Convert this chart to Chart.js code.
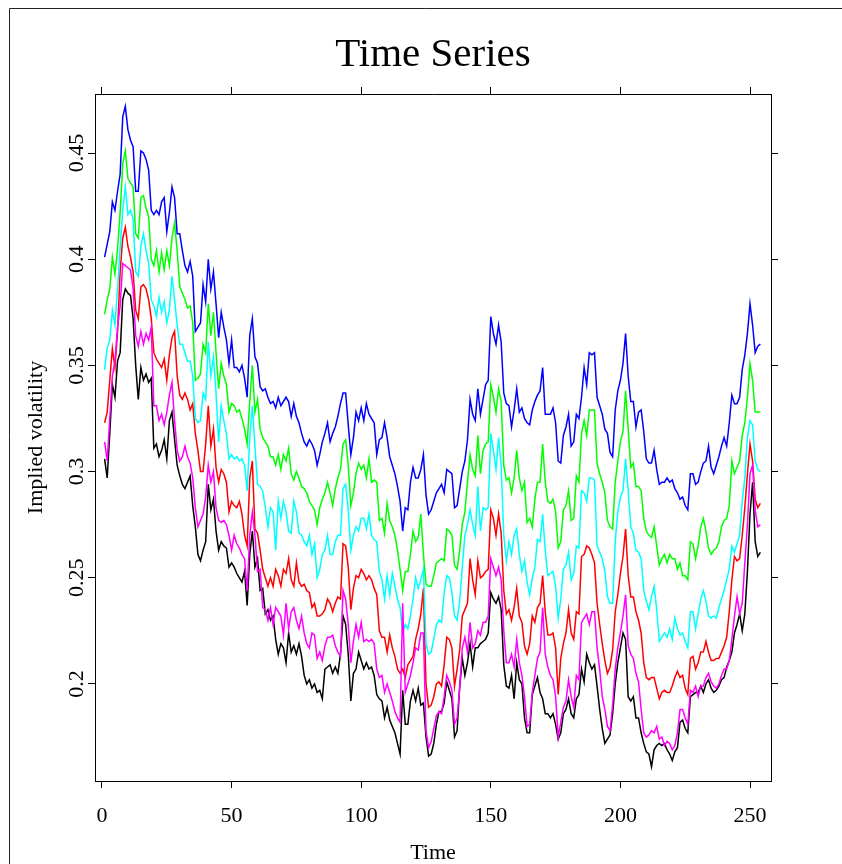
<!DOCTYPE html>
<html><head><meta charset="utf-8">
<script src="https://cdn.jsdelivr.net/npm/chart.js@4/dist/chart.umd.min.js"></script>
<style>html,body{margin:0;padding:0;background:#fff;}canvas{display:block;}</style>
</head><body>
<canvas id="c" width="842" height="864"></canvas>
<script>
// ---- data ----
const timeIdx = Array.from({length: 254}, (_, i) => i + 1);
const xTicks = [0, 50, 100, 150, 200, 250];
const yTicks = [0.2, 0.25, 0.3, 0.35, 0.4, 0.45];
const yTickLabels = ['0.2', '0.25', '0.3', '0.35', '0.4', '0.45'];

const blue = [
0.401,0.407,0.413,0.427,0.423,0.432,0.440,0.467,0.472,0.461,
0.456,0.453,0.432,0.432,0.451,0.450,0.447,0.442,0.423,0.421,
0.423,0.421,0.427,0.429,0.413,0.422,0.434,0.429,0.412,0.412,
0.404,0.397,0.394,0.399,0.392,0.366,0.368,0.370,0.388,0.380,
0.400,0.386,0.394,0.379,0.363,0.375,0.368,0.362,0.351,0.362,
0.349,0.349,0.347,0.350,0.344,0.335,0.364,0.372,0.354,0.351,
0.340,0.338,0.339,0.335,0.332,0.333,0.330,0.335,0.331,0.333,
0.335,0.333,0.326,0.332,0.326,0.323,0.318,0.314,0.312,0.315,
0.313,0.310,0.303,0.308,0.314,0.318,0.323,0.314,0.318,0.321,
0.326,0.332,0.337,0.337,0.322,0.308,0.316,0.328,0.324,0.330,
0.324,0.332,0.327,0.325,0.323,0.308,0.315,0.316,0.323,0.316,
0.307,0.303,0.299,0.293,0.286,0.272,0.283,0.282,0.295,0.302,
0.297,0.297,0.301,0.308,0.289,0.280,0.282,0.286,0.290,0.292,
0.294,0.290,0.301,0.300,0.299,0.283,0.284,0.292,0.300,0.305,
0.315,0.334,0.327,0.324,0.339,0.327,0.334,0.341,0.343,0.373,
0.365,0.360,0.369,0.361,0.337,0.332,0.331,0.321,0.329,0.339,
0.328,0.330,0.325,0.323,0.322,0.329,0.333,0.336,0.338,0.349,
0.327,0.327,0.327,0.330,0.323,0.305,0.304,0.317,0.321,0.327,
0.312,0.314,0.327,0.325,0.335,0.349,0.341,0.356,0.355,0.356,
0.335,0.331,0.327,0.320,0.318,0.309,0.307,0.329,0.338,0.343,
0.351,0.365,0.345,0.333,0.333,0.321,0.328,0.329,0.319,0.306,
0.304,0.304,0.310,0.301,0.294,0.295,0.295,0.297,0.295,0.296,
0.292,0.290,0.287,0.288,0.284,0.282,0.299,0.299,0.294,0.295,
0.300,0.304,0.305,0.312,0.302,0.299,0.303,0.307,0.312,0.316,
0.312,0.323,0.336,0.332,0.332,0.335,0.348,0.355,0.365,0.379,
0.369,0.356,0.359,0.360];

const green = [
0.374,0.381,0.386,0.401,0.393,0.405,0.422,0.445,0.451,0.438,
0.436,0.434,0.412,0.410,0.429,0.430,0.424,0.420,0.400,0.397,
0.404,0.394,0.403,0.395,0.404,0.397,0.410,0.417,0.404,0.387,
0.384,0.381,0.377,0.378,0.370,0.343,0.344,0.346,0.360,0.356,
0.379,0.364,0.375,0.356,0.339,0.351,0.345,0.341,0.328,0.332,
0.331,0.328,0.329,0.325,0.320,0.313,0.333,0.350,0.328,0.334,
0.320,0.316,0.314,0.312,0.307,0.307,0.303,0.308,0.301,0.308,
0.305,0.311,0.299,0.296,0.300,0.297,0.293,0.292,0.290,0.286,
0.284,0.282,0.275,0.283,0.287,0.290,0.295,0.290,0.284,0.292,
0.297,0.301,0.313,0.315,0.303,0.284,0.290,0.299,0.304,0.301,
0.303,0.297,0.306,0.295,0.296,0.295,0.277,0.278,0.271,0.285,
0.277,0.274,0.270,0.263,0.254,0.244,0.253,0.253,0.261,0.272,
0.267,0.269,0.280,0.261,0.247,0.246,0.246,0.251,0.257,0.258,
0.259,0.258,0.273,0.272,0.270,0.256,0.254,0.263,0.275,0.281,
0.295,0.308,0.301,0.298,0.317,0.299,0.310,0.313,0.314,0.341,
0.335,0.328,0.339,0.333,0.303,0.296,0.297,0.290,0.297,0.310,
0.297,0.291,0.295,0.276,0.278,0.274,0.287,0.295,0.295,0.313,
0.295,0.286,0.285,0.287,0.281,0.264,0.267,0.282,0.284,0.291,
0.277,0.278,0.298,0.295,0.318,0.324,0.317,0.329,0.329,0.329,
0.304,0.299,0.295,0.290,0.277,0.274,0.273,0.295,0.305,0.314,
0.319,0.338,0.320,0.302,0.304,0.293,0.293,0.291,0.278,0.272,
0.270,0.269,0.274,0.265,0.256,0.259,0.261,0.257,0.261,0.259,
0.259,0.254,0.257,0.251,0.251,0.249,0.267,0.266,0.259,0.265,
0.274,0.278,0.272,0.264,0.261,0.263,0.264,0.267,0.274,0.277,
0.278,0.284,0.305,0.299,0.302,0.305,0.317,0.323,0.335,0.351,
0.343,0.328,0.328,0.328];

const cyan = [
0.348,0.358,0.362,0.376,0.369,0.386,0.405,0.423,0.434,0.421,
0.423,0.419,0.394,0.392,0.406,0.412,0.404,0.398,0.381,0.378,
0.373,0.382,0.375,0.380,0.370,0.376,0.392,0.381,0.369,0.360,
0.360,0.356,0.352,0.352,0.345,0.325,0.323,0.324,0.337,0.334,
0.361,0.345,0.354,0.337,0.314,0.331,0.324,0.318,0.306,0.308,
0.306,0.307,0.305,0.306,0.303,0.291,0.316,0.331,0.312,0.294,
0.293,0.291,0.283,0.274,0.283,0.281,0.263,0.286,0.278,0.286,
0.281,0.272,0.271,0.286,0.281,0.271,0.270,0.267,0.265,0.270,
0.261,0.266,0.250,0.254,0.261,0.263,0.270,0.261,0.261,0.267,
0.270,0.270,0.292,0.294,0.282,0.263,0.270,0.274,0.272,0.278,
0.278,0.273,0.280,0.270,0.268,0.267,0.253,0.249,0.240,0.251,
0.242,0.252,0.246,0.240,0.236,0.224,0.228,0.226,0.232,0.240,
0.250,0.245,0.249,0.254,0.219,0.214,0.215,0.221,0.228,0.230,
0.229,0.243,0.251,0.250,0.243,0.232,0.230,0.239,0.255,0.270,
0.275,0.282,0.275,0.270,0.293,0.272,0.283,0.282,0.283,0.318,
0.310,0.301,0.316,0.303,0.270,0.258,0.267,0.261,0.270,0.273,
0.261,0.253,0.258,0.248,0.242,0.250,0.255,0.268,0.267,0.280,
0.263,0.251,0.252,0.253,0.246,0.231,0.240,0.254,0.256,0.262,
0.249,0.252,0.265,0.264,0.291,0.290,0.286,0.297,0.297,0.296,
0.265,0.262,0.259,0.253,0.241,0.238,0.238,0.267,0.281,0.288,
0.291,0.306,0.291,0.274,0.271,0.263,0.262,0.259,0.244,0.239,
0.235,0.241,0.246,0.235,0.220,0.222,0.224,0.222,0.226,0.221,
0.231,0.226,0.223,0.224,0.220,0.217,0.234,0.234,0.226,0.233,
0.240,0.244,0.239,0.232,0.231,0.232,0.231,0.236,0.240,0.244,
0.249,0.254,0.265,0.262,0.266,0.270,0.286,0.297,0.316,0.324,
0.322,0.305,0.301,0.300];

const red = [
0.323,0.328,0.343,0.358,0.349,0.366,0.394,0.410,0.415,0.406,
0.401,0.394,0.376,0.372,0.387,0.388,0.386,0.381,0.372,0.356,
0.353,0.351,0.349,0.353,0.343,0.355,0.363,0.366,0.345,0.336,
0.334,0.337,0.334,0.329,0.332,0.318,0.310,0.300,0.300,0.313,
0.331,0.312,0.320,0.302,0.295,0.301,0.299,0.295,0.281,0.286,
0.284,0.283,0.286,0.280,0.270,0.265,0.297,0.305,0.273,0.271,
0.263,0.254,0.250,0.246,0.250,0.246,0.254,0.251,0.246,0.254,
0.252,0.259,0.249,0.246,0.257,0.248,0.246,0.247,0.244,0.243,
0.236,0.238,0.232,0.232,0.233,0.235,0.240,0.238,0.234,0.238,
0.241,0.240,0.266,0.265,0.255,0.235,0.245,0.251,0.250,0.254,
0.252,0.249,0.251,0.249,0.245,0.242,0.225,0.222,0.222,0.215,
0.223,0.217,0.213,0.207,0.205,0.207,0.203,0.209,0.211,0.213,
0.221,0.226,0.233,0.245,0.200,0.189,0.190,0.194,0.200,0.201,
0.199,0.209,0.222,0.221,0.217,0.199,0.207,0.216,0.232,0.235,
0.238,0.259,0.249,0.242,0.258,0.250,0.251,0.253,0.254,0.282,
0.278,0.270,0.280,0.271,0.244,0.233,0.235,0.230,0.236,0.245,
0.232,0.229,0.218,0.214,0.219,0.232,0.229,0.236,0.238,0.251,
0.234,0.223,0.223,0.224,0.217,0.195,0.212,0.219,0.224,0.235,
0.224,0.221,0.234,0.233,0.260,0.261,0.265,0.264,0.261,0.257,
0.238,0.228,0.219,0.211,0.205,0.208,0.216,0.234,0.242,0.252,
0.260,0.273,0.251,0.241,0.241,0.234,0.230,0.224,0.210,0.203,
0.202,0.203,0.203,0.198,0.193,0.196,0.197,0.196,0.196,0.199,
0.203,0.206,0.203,0.204,0.198,0.195,0.212,0.213,0.207,0.210,
0.215,0.215,0.220,0.215,0.211,0.211,0.212,0.212,0.215,0.218,
0.222,0.234,0.249,0.260,0.258,0.259,0.270,0.283,0.299,0.313,
0.305,0.287,0.283,0.285];

const magenta = [
0.314,0.305,0.325,0.345,0.352,0.368,0.378,0.398,0.397,0.396,
0.395,0.386,0.364,0.359,0.366,0.360,0.365,0.362,0.368,0.331,
0.331,0.324,0.327,0.322,0.328,0.336,0.342,0.324,0.310,0.305,
0.307,0.312,0.307,0.304,0.297,0.283,0.274,0.277,0.280,0.288,
0.303,0.295,0.300,0.283,0.277,0.276,0.277,0.275,0.270,0.263,
0.270,0.266,0.264,0.261,0.259,0.244,0.270,0.281,0.270,0.253,
0.254,0.236,0.235,0.230,0.236,0.228,0.236,0.234,0.232,0.223,
0.238,0.226,0.234,0.236,0.230,0.226,0.232,0.224,0.219,0.217,
0.224,0.223,0.212,0.215,0.211,0.218,0.222,0.222,0.223,0.218,
0.215,0.213,0.244,0.240,0.228,0.210,0.220,0.228,0.222,0.229,
0.220,0.221,0.220,0.221,0.219,0.207,0.203,0.204,0.196,0.200,
0.196,0.192,0.187,0.184,0.182,0.238,0.196,0.200,0.204,0.210,
0.217,0.216,0.224,0.224,0.178,0.170,0.173,0.179,0.185,0.187,
0.186,0.194,0.204,0.201,0.197,0.181,0.184,0.198,0.217,0.222,
0.215,0.229,0.217,0.219,0.225,0.223,0.229,0.229,0.232,0.259,
0.255,0.251,0.255,0.249,0.225,0.210,0.210,0.214,0.208,0.221,
0.210,0.204,0.194,0.180,0.181,0.196,0.204,0.212,0.215,0.236,
0.214,0.208,0.204,0.202,0.194,0.175,0.182,0.189,0.192,0.202,
0.194,0.189,0.204,0.202,0.229,0.231,0.233,0.228,0.234,0.234,
0.217,0.207,0.194,0.188,0.180,0.178,0.190,0.207,0.217,0.224,
0.232,0.242,0.218,0.214,0.212,0.205,0.201,0.188,0.177,0.175,
0.176,0.178,0.177,0.180,0.174,0.175,0.171,0.173,0.172,0.169,
0.171,0.177,0.188,0.188,0.184,0.181,0.197,0.196,0.199,0.194,
0.199,0.199,0.203,0.205,0.201,0.199,0.198,0.200,0.204,0.207,
0.207,0.211,0.221,0.232,0.241,0.233,0.238,0.257,0.275,0.299,
0.303,0.282,0.274,0.275];

const black = [
0.306,0.297,0.318,0.341,0.335,0.352,0.356,0.381,0.386,0.384,
0.383,0.372,0.350,0.334,0.349,0.343,0.346,0.342,0.344,0.311,
0.313,0.307,0.310,0.315,0.306,0.324,0.328,0.315,0.303,0.298,
0.294,0.292,0.295,0.298,0.284,0.274,0.261,0.258,0.263,0.267,
0.294,0.282,0.287,0.272,0.263,0.267,0.265,0.264,0.255,0.257,
0.255,0.252,0.250,0.248,0.253,0.237,0.261,0.272,0.255,0.259,
0.244,0.245,0.233,0.235,0.230,0.232,0.221,0.214,0.219,0.217,
0.210,0.224,0.215,0.218,0.214,0.219,0.213,0.204,0.200,0.202,
0.198,0.200,0.196,0.197,0.193,0.207,0.208,0.209,0.205,0.208,
0.205,0.214,0.232,0.228,0.214,0.192,0.205,0.207,0.215,0.211,
0.207,0.210,0.207,0.208,0.204,0.195,0.193,0.192,0.184,0.189,
0.183,0.180,0.177,0.172,0.167,0.197,0.181,0.181,0.192,0.197,
0.192,0.198,0.190,0.191,0.175,0.166,0.167,0.172,0.181,0.187,
0.187,0.191,0.201,0.197,0.193,0.175,0.178,0.199,0.212,0.204,
0.210,0.219,0.208,0.217,0.217,0.219,0.220,0.221,0.224,0.243,
0.240,0.238,0.241,0.235,0.209,0.199,0.198,0.204,0.193,0.210,
0.202,0.200,0.184,0.177,0.177,0.195,0.199,0.203,0.196,0.193,
0.186,0.186,0.184,0.186,0.181,0.174,0.177,0.186,0.188,0.193,
0.186,0.184,0.193,0.195,0.207,0.201,0.214,0.210,0.207,0.209,
0.199,0.188,0.179,0.172,0.174,0.176,0.186,0.200,0.210,0.217,
0.224,0.221,0.194,0.192,0.194,0.184,0.184,0.177,0.172,0.168,
0.167,0.161,0.169,0.171,0.172,0.171,0.172,0.169,0.167,0.164,
0.168,0.170,0.182,0.183,0.179,0.177,0.194,0.195,0.196,0.196,
0.199,0.196,0.200,0.202,0.198,0.196,0.197,0.199,0.202,0.203,
0.208,0.211,0.215,0.224,0.228,0.233,0.225,0.233,0.253,0.280,
0.295,0.267,0.260,0.262];

// ---- chart ----
const SERIF = "'Liberation Serif', 'DejaVu Serif', serif";
const XMIN = -2.7, XMAX = 258.1;
const YMIN = 0.1543, YMAX = 0.4778;

const setXTicks = s => { s.ticks = xTicks.map(v => ({value: v})); };
const setYTicks = s => { s.ticks = yTicks.map(v => ({value: v})); };

const gridOpts = {drawOnChartArea: false, drawTicks: true, tickLength: 7, color: '#000', lineWidth: 1};
const borderOpts = {display: true, color: '#000', width: 1};

const framePlugin = {
  id: 'frame',
  beforeDraw(chart) {
    const c = chart.ctx;
    c.save();
    c.fillStyle = '#fff';
    c.fillRect(0, 0, chart.width, chart.height);
    c.strokeStyle = '#222';
    c.lineWidth = 1;
    c.beginPath();
    c.moveTo(9.5, chart.height);
    c.lineTo(9.5, 8.5);
    c.lineTo(chart.width, 8.5);
    c.stroke();
    c.restore();
  }
};

const mk = (data, color) => ({
  data: data, borderColor: color, backgroundColor: color, borderWidth: 1.5,
  pointRadius: 0, pointHoverRadius: 0, tension: 0, fill: false
});

new Chart(document.getElementById('c'), {
  type: 'line',
  data: {
    labels: timeIdx,
    datasets: [
      mk(magenta, '#FF00FF'),
      mk(cyan, '#00FFFF'),
      mk(blue, '#0000FF'),
      mk(green, '#00FF00'),
      mk(red, '#FF0000'),
      mk(black, '#000000')
    ]
  },
  options: {
    responsive: false,
    animation: false,
    devicePixelRatio: 1,
    layout: {padding: 0},
    events: [],
    plugins: {
      legend: {display: false},
      tooltip: {enabled: false},
      title: {
        display: true, text: 'Time Series', fullSize: false, color: '#000',
        font: {family: SERIF, size: 41, weight: 'normal', lineHeight: 1},
        padding: {top: 35, bottom: 0}
      }
    },
    scales: {
      x: {
        type: 'linear', position: 'bottom', min: XMIN, max: XMAX,
        afterBuildTicks: setXTicks,
        afterFit: s => { s.height = 83; },
        grid: gridOpts, border: borderOpts,
        ticks: {color: '#000', font: {family: SERIF, size: 22}, padding: 15, maxRotation: 0, autoSkip: false},
        title: {display: true, text: 'Time', color: '#000', font: {family: SERIF, size: 22, lineHeight: 1}, padding: {top: 0, bottom: 0}}
      },
      x2: {
        type: 'linear', position: 'top', min: XMIN, max: XMAX,
        afterBuildTicks: setXTicks,
        afterFit: s => { s.height = 18; },
        grid: gridOpts, border: borderOpts,
        ticks: {display: false}
      },
      y: {
        type: 'linear', position: 'left', min: YMIN, max: YMAX,
        afterBuildTicks: setYTicks,
        afterFit: s => { s.width = 95; },
        grid: gridOpts, border: borderOpts,
        ticks: {
          color: '#000', font: {family: SERIF, size: 22}, minRotation: 90, maxRotation: 90,
          crossAlign: 'center', padding: -8.75, autoSkip: false,
          callback: v => { const i = yTicks.indexOf(v); return i >= 0 ? yTickLabels[i] : ''; }
        },
        title: {display: true, text: 'Implied volatility', color: '#000', font: {family: SERIF, size: 22, lineHeight: 1}, padding: {top: 25.5, bottom: 0}}
      },
      y2: {
        type: 'linear', position: 'right', min: YMIN, max: YMAX,
        afterBuildTicks: setYTicks,
        afterFit: s => { s.width = 71; },
        grid: gridOpts, border: borderOpts,
        ticks: {display: false}
      }
    }
  },
  plugins: [framePlugin]
});
</script>
</body></html>
